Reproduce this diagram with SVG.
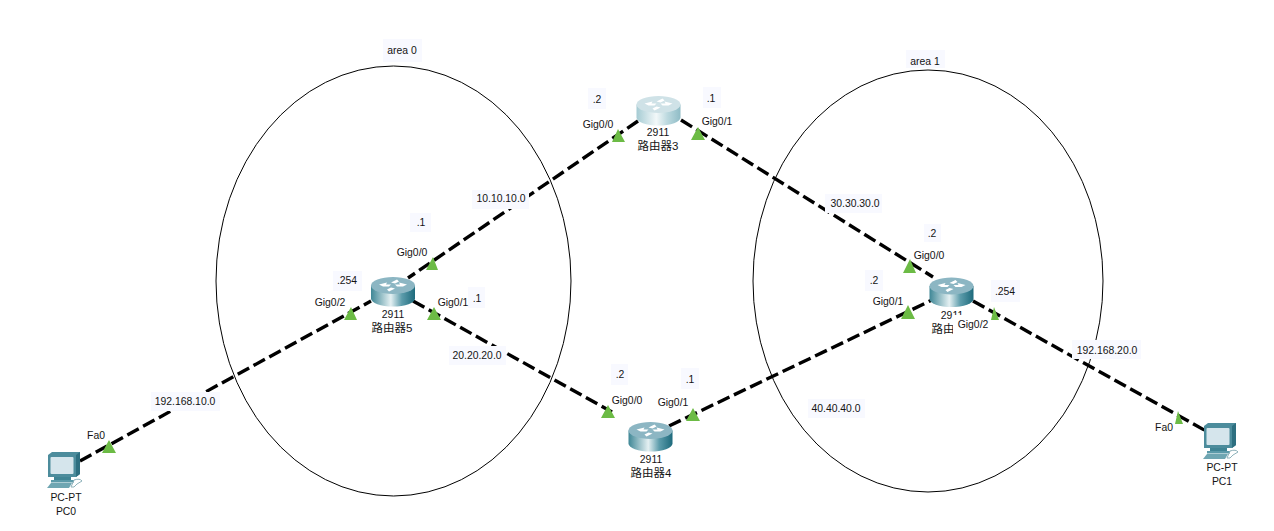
<svg xmlns="http://www.w3.org/2000/svg" width="1274" height="531" viewBox="0 0 1274 531">
<style>
text{font-family:"Liberation Sans",Arial,"Noto Sans CJK SC",sans-serif;font-size:10.400px;fill:#141414;text-anchor:middle}
.cjk{font-size:11.500px}
.link{fill:none;stroke:#000;stroke-width:3.400;stroke-dasharray:13 5}
.area{fill:none;stroke:#000;stroke-width:1}
.tri{fill:#6cbb45}
.bg{fill:#f8f9ff}
</style>
<defs>
<linearGradient id="rb" x1="0" x2="1" y1="0" y2="0">
<stop offset="0" stop-color="#3f8796"/><stop offset=".45" stop-color="#e4f0f2"/><stop offset=".7" stop-color="#5c9cab"/><stop offset="1" stop-color="#1d6a7c"/>
</linearGradient>
<linearGradient id="rbp" x1="0" x2="1" y1="0" y2="0">
<stop offset="0" stop-color="#a5cbd3"/><stop offset=".45" stop-color="#f2f8f9"/><stop offset=".7" stop-color="#bcd9df"/><stop offset="1" stop-color="#8fbcc6"/>
</linearGradient>
<g id="arrows">
<path d="M-14 -1 L-6 -3 L-7 -1 L-2 -1 L-4 1 L-10 1 Z M14 -1 L6 -3 L7 -1 L2 -1 L4 1 L10 1 Z M-2 -3 L4 -6 L6 -4 L2 -2 Z M2 3 L-4 6 L-6 4 L-2 2 Z" fill="#fff"/>
</g>
<g id="router">
<path d="M-22 -6 V7 A22 8 0 0 0 22 7 V-6 Z" fill="url(#rb)"/>
<ellipse cx="0" cy="-6" rx="22" ry="8.500" fill="#8cb6c3"/>
<use href="#arrows" y="-6"/>
</g>
<g id="routerp">
<path d="M-22 -6 V7 A22 8 0 0 0 22 7 V-6 Z" fill="url(#rbp)"/>
<ellipse cx="0" cy="-6" rx="22" ry="8.500" fill="#cfe2e7"/>
<use href="#arrows" y="-6"/>
</g>
<g id="pc">
<path d="M-17 -22 L-13 -25 H15 V-3 L11 0 H-17 Z" fill="#4c8c9c"/>
<path d="M11 -22 L15 -25 V-3 L11 0 Z" fill="#2d6f80"/>
<rect x="-14.500" y="-20" width="23" height="17" rx="1" fill="#d5e5ec"/>
<path d="M-11 0 H6 V3 H-11 Z" fill="#3f8494"/>
<path d="M-14 3 H9 V5.500 H-14 Z" fill="#5b9aa9"/>
<path d="M-14 6 H7 L4 11 H-18 Z" fill="#6fa6b2"/>
<path d="M9 3 Q15 1 17 4 L12 7 L9 10 H6 Z" fill="none" stroke="#8fb3bb" stroke-width="1"/>
</g>
</defs>
<rect width="1274" height="531" fill="#fff"/>
<g id="connectors">
<ellipse class="area" cx="393.500" cy="281" rx="177.500" ry="215"/>
<ellipse class="area" cx="928" cy="281" rx="175" ry="211"/>
<path class="link" d="M80 461 L371 301"/>
<path class="link" d="M638 121 L408 278"/>
<path class="link" d="M413 301 L612 412"/>
<path class="link" d="M681 120 L933 277"/>
<path class="link" d="M669 426 L932 300"/>
<path class="link" d="M973 301 L1206 431"/>
<path class="tri" d="M426 270 L438 270 L433 257 Z M344 320 L357 320 L351 307 Z M427 320 L441 320 L434 307 Z M612 142 L625 142 L618 129 Z M691 140 L705 140 L698 127 Z M601 418 L615 418 L608 405 Z M686 421 L700 421 L693 408 Z M903 273 L916 273 L910 259 Z M901 319 L915 319 L908 305 Z M991 320 L999 320 L994 307 Z M102 453 L116 453 L109 440 Z M1175 424 L1183 424 L1178 411 Z"/>
</g>
<g id="labels">
<rect class="bg" x="383" y="39" width="39" height="23"/><text x="402" y="54">area 0</text>
<rect class="bg" x="906" y="50" width="39" height="18"/><text x="925" y="65">area 1</text>
<rect class="bg" x="472" y="190" width="57" height="19"/><text x="501" y="202">10.10.10.0</text>
<rect class="bg" x="449" y="346" width="57" height="19"/><text x="477" y="359">20.20.20.0</text>
<rect class="bg" x="825" y="194" width="57" height="19"/><text x="855" y="207">30.30.30.0</text>
<rect class="bg" x="808" y="399" width="57" height="19"/><text x="836" y="412">40.40.40.0</text>
<rect class="bg" x="151" y="392" width="69" height="19"/><text x="185" y="405">192.168.10.0</text>
<rect class="bg" x="1072" y="340" width="69" height="19"/><text x="1107" y="354">192.168.20.0</text>
<rect class="bg" x="410" y="213" width="21" height="19"/><text x="421" y="226">.1</text>
<rect class="bg" x="333" y="271" width="29" height="20"/><text x="347" y="284">.254</text>
<rect class="bg" x="468" y="287" width="17" height="21"/><text x="477" y="302">.1</text>
<rect class="bg" x="588" y="88" width="18" height="21"/><text x="597" y="103">.2</text>
<rect class="bg" x="703" y="87" width="18" height="21"/><text x="711" y="102">.1</text>
<rect class="bg" x="611" y="364" width="17" height="21"/><text x="620" y="378">.2</text>
<rect class="bg" x="681" y="368" width="18" height="21"/><text x="690" y="383">.1</text>
<rect class="bg" x="924" y="224" width="17" height="18"/><text x="932" y="237">.2</text>
<rect class="bg" x="865" y="270" width="18" height="21"/><text x="874" y="284">.2</text>
<rect class="bg" x="991" y="280" width="29" height="22"/><text x="1005" y="295">.254</text>
<text x="412" y="256">Gig0/0</text>
<text x="330" y="306">Gig0/2</text>
<text x="453" y="306">Gig0/1</text>
<text x="598" y="128">Gig0/0</text>
<text x="717" y="125">Gig0/1</text>
<text x="627" y="404">Gig0/0</text>
<text x="673" y="406">Gig0/1</text>
<text x="929" y="259">Gig0/0</text>
<text x="888" y="305">Gig0/1</text>
<text x="96" y="439">Fa0</text>
<text x="1164" y="431">Fa0</text>
</g>
<g id="router5"><use href="#router" x="393" y="291.500"/><text x="393" y="318">2911</text><text class="cjk" x="392" y="332">路由器5</text></g>
<g id="router3"><use href="#routerp" x="658.500" y="110.500"/><text x="658" y="136">2911</text><text class="cjk" x="658" y="150">路由器3</text></g>
<g id="router4"><use href="#router" x="650.500" y="436.500"/><text x="651" y="463">2911</text><text class="cjk" x="651" y="477">路由器4</text></g>
<g id="router2"><use href="#router" x="951.500" y="292"/><text x="952" y="319">2911</text><text class="cjk" x="943" y="333">路由</text>
<rect x="953" y="315" width="37" height="20" fill="#fff"/><text x="973" y="328">Gig0/2</text></g>
<g id="pc0"><use href="#pc" x="65" y="477"/><text x="66" y="501">PC-PT</text><text x="66" y="515">PC0</text></g>
<g id="pc1"><use href="#pc" x="1221" y="448"/><text x="1222" y="471">PC-PT</text><text x="1222" y="485">PC1</text></g>
</svg>
